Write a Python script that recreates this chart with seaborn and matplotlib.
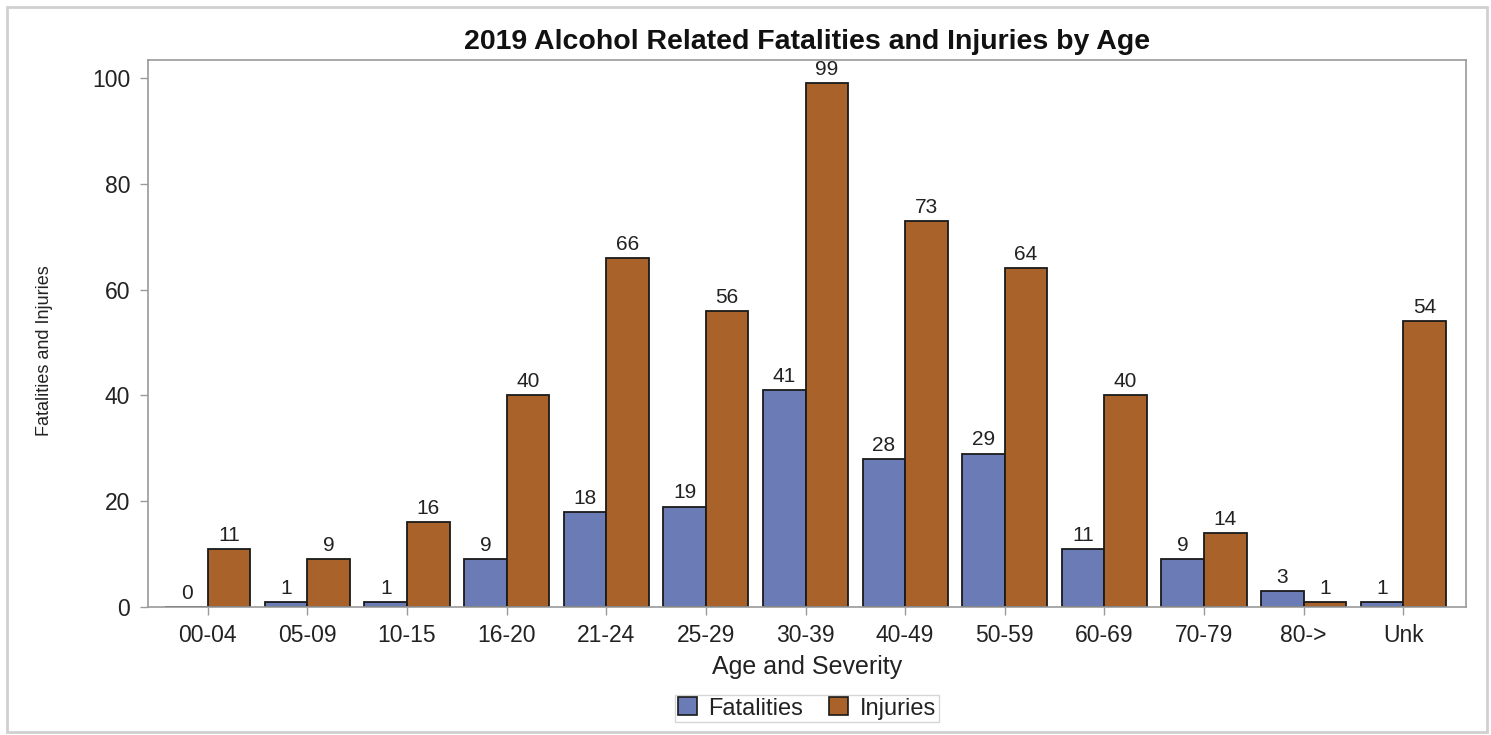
import matplotlib
matplotlib.use("Agg")
import matplotlib.pyplot as plt
import seaborn as sns
import pandas as pd
from matplotlib.patches import Rectangle

age_groups = ["00-04", "05-09", "10-15", "16-20", "21-24", "25-29", "30-39",
              "40-49", "50-59", "60-69", "70-79", "80->", "Unk"]
fatalities = [0, 1, 1, 9, 18, 19, 41, 28, 29, 11, 9, 3, 1]
injuries = [11, 9, 16, 40, 66, 56, 99, 73, 64, 40, 14, 1, 54]
series = ["Fatalities", "Injuries"]
colors = ["#6B7BB5", "#A9622A"]

df = pd.DataFrame({
    "Age": age_groups * 2,
    "Severity": [series[0]] * len(age_groups) + [series[1]] * len(age_groups),
    "Count": fatalities + injuries,
})

sns.set_theme(style="white")
plt.rcParams["font.family"] = ["Liberation Sans", "DejaVu Sans"]

fig = plt.figure(figsize=(14.91, 7.35), dpi=100)
ax = fig.add_axes([0.0993, 0.1741, 0.8839, 0.7443])

sns.barplot(data=df, x="Age", y="Count", hue="Severity", order=age_groups,
            hue_order=series, palette=colors, width=0.855, edgecolor="#1a1a1a",
            linewidth=1.3, saturation=1, ax=ax, legend=True)

for cont in ax.containers:
    ax.bar_label(cont, fmt="%d", padding=3, fontsize=15, color="#222222")

ax.set_ylim(0, 103.4)
ax.set_xlim(-0.6, 12.63)
ax.set_yticks([0, 20, 40, 60, 80, 100])
ax.tick_params(axis="both", which="both", direction="out", length=6, width=1,
               color="#9a9a9a", labelsize=16.5, labelcolor="#222222",
               bottom=True, left=True)
ax.tick_params(axis="y", pad=7)
ax.tick_params(axis="x", pad=6)
for s in ax.spines.values():
    s.set_color("#9a9a9a")
    s.set_linewidth(1.2)

ax.set_xlabel("Age and Severity", fontsize=18, color="#222222", labelpad=6)
ax.set_ylabel("")
fig.text(0.030, 0.523, "Fatalities and Injuries", rotation=90, fontsize=13,
         color="#222222", ha="center", va="center",
         family=["Liberation Sans Narrow", "Liberation Sans", "DejaVu Sans"])
ax.set_title("2019 Alcohol Related Fatalities and Injuries by Age",
             fontsize=20.5, fontweight="bold", color="#111111", pad=8)

leg = ax.legend(loc="upper center", bbox_to_anchor=(0.5, -0.16), ncol=2,
                frameon=True, fontsize=17, handlelength=0.8, handleheight=0.8,
                handletextpad=0.5, columnspacing=1.1, borderpad=0.12,
                borderaxespad=0.0, fancybox=False, edgecolor="#cccccc",
                labelcolor="#222222")
leg.get_frame().set_linewidth(1.0)
for h in leg.legend_handles:
    h.set_edgecolor("#1a1a1a")
    h.set_linewidth(1.2)

# light outer frame around the whole graphic
fig.patches.append(Rectangle((0.005, 0.004), 0.992, 0.986, transform=fig.transFigure,
                             fill=False, edgecolor="#d0d0d0", linewidth=2))

fig.savefig("out.png", dpi=100, facecolor="white")
